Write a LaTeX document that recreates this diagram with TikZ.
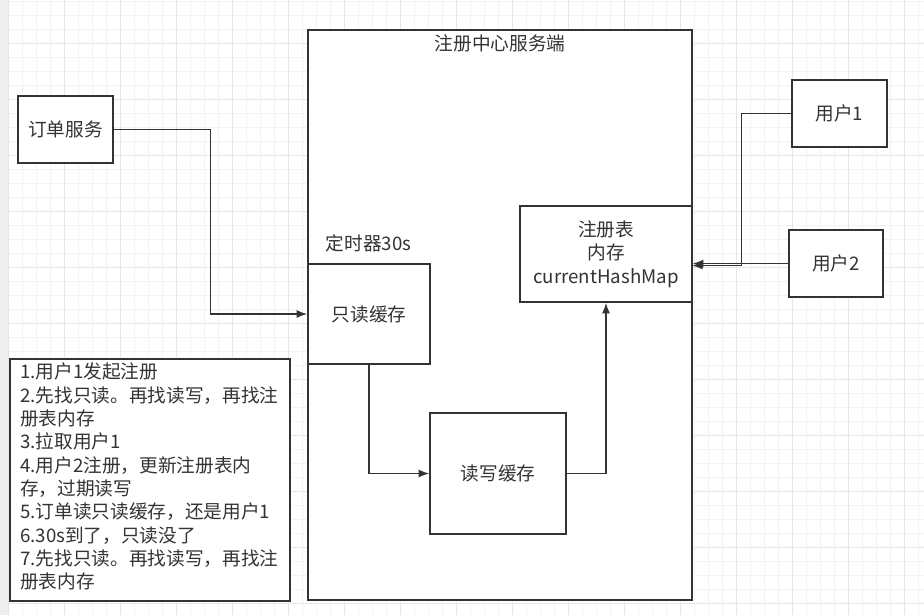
\documentclass[tikz,border=0pt]{standalone}
\usepackage{fontspec}
\setmainfont{Noto Sans CJK SC}
\usetikzlibrary{arrows.meta}
\definecolor{ln}{HTML}{333333}
\definecolor{gmin}{HTML}{F3F3F3}
\definecolor{gmaj}{HTML}{E6E6E6}
\definecolor{strip}{HTML}{EFEFEF}
\begin{document}
\begin{tikzpicture}[x=0.75pt,y=-0.75pt,
  box/.style={draw=ln, line width=1.1pt, fill=white, inner sep=0pt, font=\fontsize{14}{17.5}\selectfont, text=ln, align=center},
  lbl/.style={inner sep=0pt, font=\fontsize{14}{17.5}\selectfont, text=ln, align=center},
  conn/.style={draw=ln, line width=1.1pt, -{Latex[length=8pt,width=6pt]}},
  gminor/.style={draw=gmin, line width=0.75pt},
  gmajor/.style={draw=gmaj, line width=0.75pt}]
\useasboundingbox (0,0) rectangle (924,615);
\fill[white] (0,0) rectangle (924,615);
\foreach \i in {0,...,65} {\draw[gminor] ({8.3+14*\i},0) -- ({8.3+14*\i},615);}
\foreach \j in {0,...,44} {\draw[gminor] (8,{1+14*\j}) -- (924,{1+14*\j});}
\foreach \i in {0,...,16} {\draw[gmajor] ({8.3+56*\i},0) -- ({8.3+56*\i},615);}
\foreach \j in {0,...,10} {\draw[gmajor] (8,{43+56*\j}) -- (924,{43+56*\j});}
\fill[strip] (0,0) rectangle (8,615);

\node[box, minimum width=288pt, minimum height=427.5pt] (server) at (500,315) {};
\node[lbl] (title) at (500,43) {注册中心服务端};
\node[lbl] (timer) at (368.5,243) {定时器30s};

\node[box, minimum width=71.25pt, minimum height=50.25pt] (order) at (65.5,129.5) {订单服务};
\node[box, minimum width=129pt, minimum height=72pt] (reg) at (606,254) {注册表\\内存\\currentHashMap};
\node[box, minimum width=91.5pt, minimum height=75pt] (ro) at (369,314) {只读缓存};
\node[box, minimum width=102pt, minimum height=90.75pt] (rw) at (498,473.5) {读写缓存};
\node[box, minimum width=71.25pt, minimum height=50.25pt] (u1) at (839.5,113.5) {用户1};
\node[box, minimum width=70.5pt, minimum height=50.25pt] (u2) at (836,263.5) {用户2};

\node[box, minimum width=210pt, minimum height=181.5pt] (note) at (150,480) {};
\node[lbl, anchor=west, align=left] (notetext) at (20,476.7) {1.用户1发起注册\\2.先找只读。再找读写，再找注\\册表内存\\3.拉取用户1\\4.用户2注册，更新注册表内\\存，过期读写\\5.订单读只读缓存，还是用户1\\6.30s到了，只读没了\\7.先找只读。再找读写，再找注\\册表内存};

\coordinate (r1) at (692,265.5);
\draw[conn] (order.east) -- ++(97,0) |- (ro.west);
\draw[conn] (ro.south) |- (rw.west);
\draw[conn] (rw.east) -| (reg.south);
\draw[conn] (u1.west) -- ++(-50,0) |- (r1);
\draw[conn] (u2.west) -- (reg.east |- u2.west);
\end{tikzpicture}
\end{document}
